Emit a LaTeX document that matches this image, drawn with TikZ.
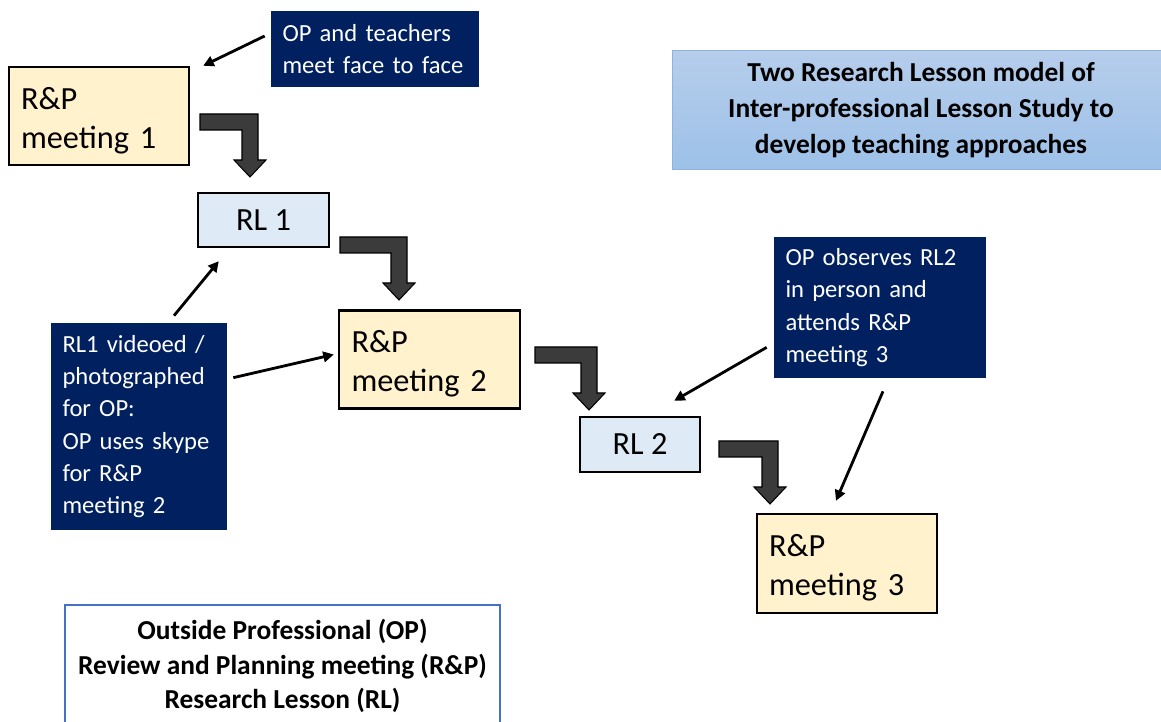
\documentclass[tikz,border=0pt]{standalone}
\usepackage{fontspec}
\setmainfont{Carlito}
\usetikzlibrary{arrows.meta}
\definecolor{rpyellow}{HTML}{FFF2CC}
\definecolor{rlblue}{HTML}{DEEBF7}
\definecolor{opnavy}{HTML}{002060}
\definecolor{flowgray}{HTML}{3B3B3B}
\definecolor{keyblue}{HTML}{4472C4}
\definecolor{titletop}{HTML}{B6CDEB}
\definecolor{titlebot}{HTML}{9DC1E8}
\definecolor{titleline}{HTML}{8DB3E2}
\tikzset{
  rpbox/.style={draw, line width=1.4pt, fill=rpyellow, minimum width=3.6cm, minimum height=1.96cm,
    text width=3.12cm, inner xsep=0.24cm, align=left, font=\fontsize{18.4}{22.1}\selectfont,
    execute at begin node=\rule{0pt}{17.5pt}},
  rlbox/.style={draw, line width=1.4pt, fill=rlblue, minimum height=1.08cm, font=\fontsize{18.4}{22.1}\selectfont},
  note/.style={fill=opnavy, text=white, inner xsep=0.23cm, align=left, font=\fontsize{14}{18.4}\selectfont},
  link/.style={-{Triangle[length=6pt,width=6pt]}, line width=1.6pt},
  flow/.style={fill=flowgray, draw=black, line width=0.6pt},
}
\begin{document}
\begin{tikzpicture}[x=0.02cm, y=-0.02cm]
\useasboundingbox (0,0) rectangle (1161,722);

% title and key
\node[draw=titleline, top color=titletop, bottom color=titlebot, minimum width=9.96cm, minimum height=2.38cm,
  align=center, font=\fontsize{15.6}{20.4}\selectfont\bfseries] (title) at (921,110)
  {Two Research Lesson model of\\Inter-professional Lesson Study to\\develop teaching approaches};
\node[draw=keyblue, fill=white, line width=0.8pt, minimum width=8.7cm, minimum height=2.44cm,
  align=center, font=\fontsize{15.6}{19.6}\selectfont\bfseries] (key) at (282.5,666)
  {Outside Professional (OP)\\Review and Planning meeting (R\&P)\\Research Lesson (RL)};

% lesson study cycle
\node[rpbox] (rp1) at (99,116) {R\&P\\meeting 1};
\node[rlbox, minimum width=2.62cm] (rl1) at (263.5,220) {RL 1};
\node[rpbox, minimum width=3.62cm] (rp2) at (429.5,359.5) {R\&P\\meeting 2};
\node[rlbox, minimum width=2.4cm, minimum height=1.1cm] (rl2) at (640,444.5) {RL 2};
\node[rpbox, minimum height=1.98cm] (rp3) at (847,563.5) {R\&P\\meeting 3};

\foreach \x/\y/\l in {200/114/58, 340/237/67, 535/347/62, 719/441/59}
{
    \draw[flow](\x,\y)--({\x+\l},\y)--({\x+\l},{\y+46})--({\x+\l+8},{\y+46})--({\x+\l-8},{\y+63})
      --({\x+\l-24},{\y+46})--({\x+\l-16},{\y+46})--({\x+\l-16},{\y+16})--(\x,{\y+16})--cycle;
}

% OP notes
\node[note, minimum width=4.16cm, minimum height=1.52cm, text width=3.7cm] (op1) at (375,49)
  {OP and teachers\\meet face to face};
\node[note, minimum width=3.52cm, minimum height=4.14cm, text width=3.06cm, inner xsep=0.22cm] (op2) at (139,426.5)
  {RL1 videoed /\\photographed\\for OP:\\OP uses skype\\for R\&P\\meeting 2};
\node[note, minimum width=4.24cm, minimum height=2.82cm, text width=3.78cm] (op3) at (880,307.5)
  {OP observes RL2\\in person and\\attends R\&P\\meeting 3};

\draw[link]([shift={(-6,-13)}]op1.west)--([shift={(13,0)}]rp1.north east);
\draw[link]([shift={(35,-7)}]op2.north)--([shift={(22,13)}]rl1.south west);
\draw[link]([shift={(6,55)}]op2.north east)--([shift={(-4,-5)}]rp2.west);
\draw[link]([shift={(-7,-31)}]op3.south west)--([shift={(-27,-15)}]rl2.north east);
\draw[link]([shift={(3,13)}]op3.south)--([shift={(-11,-12)}]rp3.north);
\end{tikzpicture}
\end{document}
